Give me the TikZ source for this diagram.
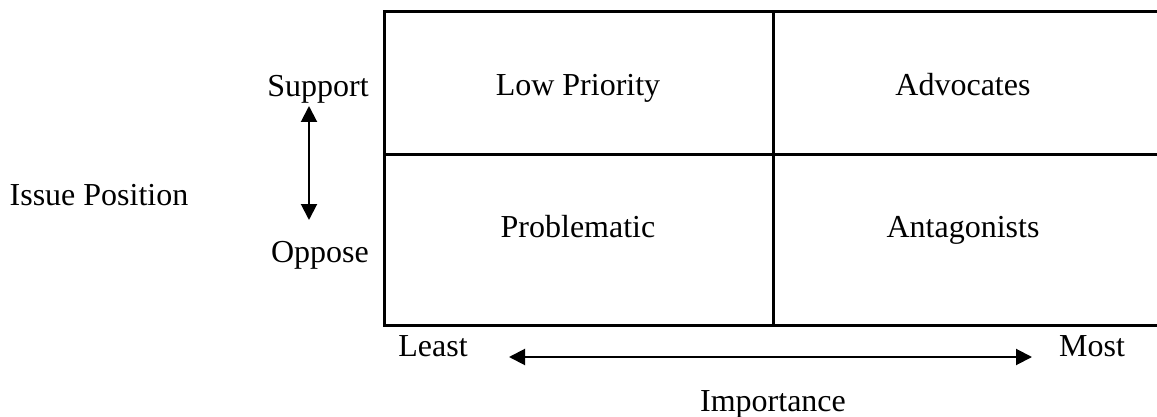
\documentclass[tikz,border=0pt]{standalone}
\usepackage{fontspec}
\setmainfont{Liberation Serif}
\usetikzlibrary{arrows.meta, positioning}

\tikzset{
  lbl/.style={anchor=base, inner sep=0pt, font=\fontsize{32}{38}\selectfont},
  grid/.style={line width=3pt},
  dir/.style={line width=2pt, {Triangle[length=16pt, width=16pt]}-{Triangle[length=16pt, width=16pt]}}
}

\begin{document}
\begin{tikzpicture}[x=1pt, y=-1pt]
  \useasboundingbox (0,0) rectangle (1157,417);
  \clip (0,0) rectangle (1157,417);

  % the four cells
  \draw[grid] (1170,12) -- (384,12) -- (384,325) -- (1170,325);
  \draw[grid] (773,12) -- (773,325);
  \draw[grid] (384,155) -- (1170,155);

  \node[lbl] (low)  at (578,96)  {Low Priority};
  \node[lbl] (adv)  at (963,96)  {Advocates};
  \node[lbl] (prob) at (578,237) {Problematic};
  \node[lbl] (anta) at (963,237) {Antagonists};

  % vertical axis
  \node[lbl] (sup) at (318,97)  {Support};
  \node[lbl] (opp) at (320,262) {Oppose};
  \node[lbl] (pos) at (99,205)  {Issue Position};
  \coordinate (vtop) at (309,106);
  \coordinate (vbot) at (309,220);
  \draw[dir] (vtop) -- (vbot);

  % horizontal axis
  \node[lbl] (least) at (433,356) {Least};
  \node[lbl] (most)  at (1092,356) {Most};
  \node[lbl] (imp)   at (773,411) {Importance};
  \coordinate (hl) at (509,357);
  \coordinate (hr) at (1032,357);
  \draw[dir] (hl) -- (hr);
\end{tikzpicture}
\end{document}
